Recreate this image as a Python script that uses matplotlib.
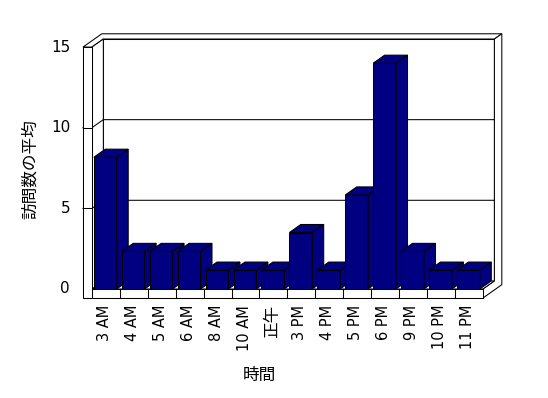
import matplotlib
matplotlib.use("Agg")
import matplotlib.pyplot as plt
from matplotlib.patches import Polygon

plt.rcParams['font.family'] = ['DejaVu Sans', 'Noto Sans CJK JP']

# data
hours = ['3 AM', '4 AM', '5 AM', '6 AM', '8 AM', '10 AM', '正午',
         '3 PM', '4 PM', '5 PM', '6 PM', '9 PM', '10 PM', '11 PM']
visits = [8.17, 2.33, 2.33, 2.33, 1.17, 1.17, 1.17,
          3.5, 1.17, 5.83, 14.0, 2.33, 1.17, 1.17]
y_ticks = [0, 5, 10, 15]
y_max = 15

# fake 3D (oblique projection) settings, in data units
ddx, ddy = 0.41, 0.5      # offset of one unit of depth
wall_w = 0.32             # left wall thickness
floor_t = 0.56            # floor thickness
back_t = 1.65             # outer face of the back wall (depth units)
bar_l, bar_r = 0.07, 0.89
bar_color = '#000080'
lw = 0.75

n = len(hours)


def P(x, y, d):
    return (x + d * ddx, y + d * ddy)


def face(pts, fc='white', z=1):
    ax.add_patch(Polygon(pts, closed=True, facecolor=fc, edgecolor='black',
                         linewidth=lw, joinstyle='miter', zorder=z))


fig = plt.figure(figsize=(5.48, 3.98), dpi=100)
ax = fig.add_axes([0, 0, 1, 1])
ax.set_xlim(-3.29, 16.33)
ax.set_ylim(-6.76, 17.92)
ax.axis('off')

# walls and floor
face([(-wall_w, y_max), (0, y_max), P(0, y_max, 1), P(n, y_max, 1),
      P(n, y_max, back_t), P(-wall_w, y_max, back_t)])
face([P(0, 0, 1), P(n, 0, 1), P(n, y_max, 1), P(0, y_max, 1)])
face([P(n, y_max, 1), P(n, y_max, back_t), P(n, -floor_t, back_t),
      (n, -floor_t), (n, 0), P(n, 0, 1)])
face([(0, 0), (n, 0), P(n, 0, 1), P(0, 0, 1)])
face([(0, 0), (0, y_max), P(0, y_max, 1), P(0, 0, 1)])

# gridlines on the walls
for v in y_ticks[1:-1]:
    ax.plot([-wall_w, 0, P(0, v, 1)[0], P(n, v, 1)[0]],
            [v, v, v + ddy, v + ddy], color='black', lw=lw, zorder=2)

# bars
for i, v in enumerate(visits):
    x0, x1 = i + bar_l, i + bar_r
    z = 3 + i
    face([(x0, 0), (x1, 0), (x1, v), (x0, v)], bar_color, z)
    face([(x0, v), (x1, v), P(x1, v, 1), P(x0, v, 1)], bar_color, z)
    face([(x1, 0), (x1, v), P(x1, v, 1), P(x1, 0, 1)], bar_color, z)

# front faces of left wall and floor
face([(-wall_w, -floor_t), (0, -floor_t), (0, y_max), (-wall_w, y_max)], z=30)
face([(0, -floor_t), (n, -floor_t), (n, 0), (0, 0)], z=30)
for i in range(1, n):
    ax.plot([i, i], [-floor_t, 0], color='black', lw=lw, zorder=31)
for v in y_ticks[1:-1]:
    ax.plot([-wall_w, 0], [v, v], color='black', lw=lw, zorder=31)

# labels
for v in y_ticks:
    ax.text(-0.78, v, str(v), ha='right', va='center', fontsize=11)
for i, h in enumerate(hours):
    size = 12 if h == '正午' else 10.5
    ax.text(i + 0.45, -0.99, h, rotation=90, ha='center', va='top',
            fontsize=size)
ax.text(-2.22, 7.44, '訪問数の平均', rotation=90, ha='center', va='center',
        fontsize=12)
ax.text(6.0, -5.33, '時間', ha='center', va='center', fontsize=12)

fig.savefig('out.png', dpi=100)
